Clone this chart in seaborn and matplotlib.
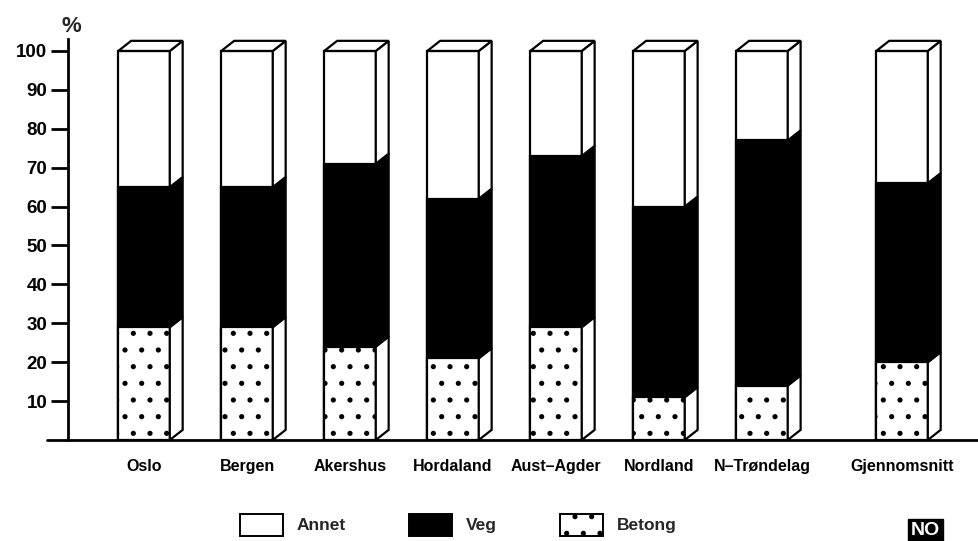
import numpy as np
import pandas as pd
import seaborn as sns
import matplotlib.pyplot as plt
import matplotlib.patches as mpatches
from matplotlib.patches import Polygon

# andel (%) per fylke
fylker = ['Oslo', 'Bergen', 'Akershus', 'Hordaland', 'Aust–Agder',
          'Nordland', 'N–Trøndelag', 'Gjennomsnitt']
betong = [29, 29, 24, 21, 29, 11, 14, 20]
veg = [36, 36, 47, 41, 44, 49, 63, 46]
annet = [35, 35, 29, 38, 27, 40, 23, 34]
yticks = [10, 20, 30, 40, 50, 60, 70, 80, 90, 100]

sns.set_theme(style='white')
plt.rcParams['font.family'] = ['Liberation Sans', 'DejaVu Sans']
plt.rcParams['hatch.linewidth'] = 1.3
plt.rcParams['hatch.color'] = 'black'

df = pd.DataFrame({'fylke': fylker, 'betong': betong, 'veg': veg, 'annet': annet})
df['pos'] = np.arange(len(df), dtype=float)
df.loc[df.index[-1], 'pos'] += 0.36   # gjennomsnitt litt til side
df['top_betong'] = df['betong']
df['top_veg'] = df['betong'] + df['veg']
df['top_annet'] = df['top_veg'] + df['annet']

fig = plt.figure(figsize=(9.79, 5.41), dpi=100, facecolor='white')
ax = fig.add_axes([0.0695, 0.1867, 0.9305, 0.7407])

bw = 0.5
kw = dict(native_scale=True, width=bw, edgecolor='black', linewidth=1.6,
          saturation=1, ax=ax, zorder=2)
sns.barplot(data=df, x='pos', y='top_annet', color='white', **kw)
sns.barplot(data=df, x='pos', y='top_veg', color='black', **kw)
sns.barplot(data=df, x='pos', y='top_betong', color='white', hatch='.', **kw)

# 3D sider og topp
dx, dy = 0.125, 2.6
for _, r in df.iterrows():
    xl = r['pos'] - bw / 2
    xr = r['pos'] + bw / 2
    segs = [(0, r['top_betong'], 'white'),
            (r['top_betong'], r['top_veg'], 'black'),
            (r['top_veg'], r['top_annet'], 'white')]
    for b, t, c in segs:
        ax.add_patch(Polygon([(xr, b), (xr + dx, b + dy), (xr + dx, t + dy), (xr, t)],
                             closed=True, facecolor=c, edgecolor='black',
                             linewidth=1.6, zorder=3, clip_on=False))
    t = r['top_annet']
    ax.add_patch(Polygon([(xl, t), (xl + dx, t + dy), (xr + dx, t + dy), (xr, t)],
                         closed=True, facecolor='white', edgecolor='black',
                         linewidth=1.6, zorder=3, clip_on=False))

ax.set_xlim(-0.738, 8.107)
ax.set_ylim(0, 103)
ax.set_xticks(df['pos'])
ax.set_xticklabels(df['fylke'], fontweight='bold', fontsize=11.5)
ax.set_yticks(yticks)
ax.set_yticklabels([str(v) for v in yticks], fontweight='bold', fontsize=13.5)
ax.tick_params(axis='x', length=0, pad=14, colors='black')
ax.tick_params(axis='y', left=True, length=12, width=2, pad=3, direction='out', colors='black')
ax.set_xlabel('')
ax.set_ylabel('')
for s in ['top', 'right', 'bottom']:
    ax.spines[s].set_visible(False)
ax.spines['left'].set_color('black')
ax.spines['left'].set_linewidth(2)
ax.axhline(0, xmin=-0.023, xmax=1, color='black', linewidth=2, clip_on=False, zorder=4)
ax.text(-0.71, 106.2, '%', ha='center', va='center', fontsize=16, fontweight='bold')

handles = [mpatches.Patch(facecolor='white', edgecolor='black', linewidth=1.4, label='Annet'),
           mpatches.Patch(facecolor='black', edgecolor='black', linewidth=1.4, label='Veg'),
           mpatches.Patch(facecolor='white', edgecolor='black', linewidth=1.4, hatch='.',
                          label='Betong')]
leg = fig.legend(handles=handles, loc='center', bbox_to_anchor=(0.468, 0.03), ncol=3,
                 frameon=False, fontsize=12.5, handlelength=2.5, handleheight=1.6,
                 columnspacing=3.6, handletextpad=0.8)
for t in leg.get_texts():
    t.set_fontweight('bold')

fig.text(0.93, 0.003, 'NO', color='white', fontsize=14, fontweight='bold',
         ha='left', va='bottom',
         bbox=dict(facecolor='black', edgecolor='black', boxstyle='square,pad=0.15'))

fig.savefig('out.png', dpi=100, facecolor='white')
